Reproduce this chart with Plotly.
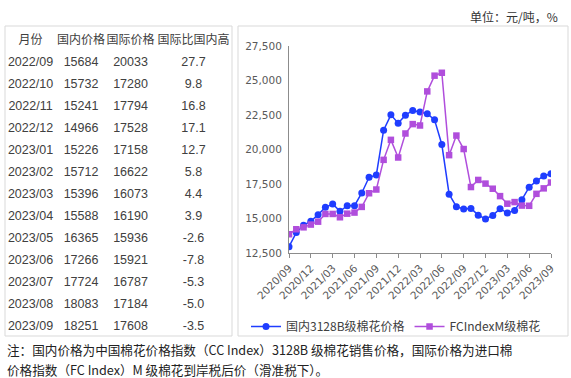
import plotly.graph_objects as go

W, H = 571, 378

# ---- data ----
months = [f"{y}/{m:02d}" for y, m in
          [(2020, 9), (2020, 10), (2020, 11), (2020, 12)] +
          [(2021, m) for m in range(1, 13)] +
          [(2022, m) for m in range(1, 13)] +
          [(2023, m) for m in range(1, 10)]]

domestic = [12960, 13980, 14510, 14800, 15280, 15810, 16050, 15520, 15930, 15930,
            16850, 17990, 18160, 21400, 22510, 21910, 22490, 22830, 22710, 22590,
            22150, 20360, 16760, 15860,
            15684, 15732, 15241, 14966, 15226, 15712, 15396, 15588, 16365, 17266,
            17724, 18083, 18251]
international = [13860, 14220, 14360, 14560, 14770, 15330, 15330, 15090, 15350, 15430,
                 15840, 16830, 17100, 19250, 20700, 19420, 21160, 21840, 21740, 24210,
                 25350, 25560, 19590, 21010,
                 20033, 17280, 17794, 17528, 17158, 16622, 16073, 16190, 15936, 15921,
                 16787, 17184, 17608]

tbl_header = ["月份", "国内价格", "国际价格", "国际比国内高"]
tbl_month = months[24:]
tbl_dom = domestic[24:]
tbl_int = international[24:]
tbl_diff = ["27.7", "9.8", "16.8", "17.1", "12.7", "5.8", "4.4", "3.9",
            "-2.6", "-7.8", "-5.3", "-5.0", "-3.5"]

x_ticks = months[::3]
y_ticks = [12500, 15000, 17500, 20000, 22500, 25000, 27500]

name_dom = "国内3128B级棉花价格"
name_int = "FCIndexM级棉花"
unit_text = "单位：元/吨，%"
note1 = "注：国内价格为中国棉花价格指数（CC Index）3128B 级棉花销售价格，国际价格为进口棉"
note2 = "价格指数（FC Index）M 级棉花到岸税后价（滑准税下）。"

CJK = "Noto Sans CJK SC"
LAT = "Liberation Sans, Noto Sans CJK SC"


def px(x):
    return x / W


def py(y):
    return 1 - y / H


fig = go.Figure()

fig.add_trace(go.Table(
    domain=dict(x=[px(5), px(232)], y=[py(336), py(27)]),
    columnwidth=[51, 50, 49, 77],
    header=dict(values=tbl_header, height=22, align="center",
                fill_color="rgba(0,0,0,0)", line_color="rgba(0,0,0,0)",
                font=dict(family=LAT, size=12, color="#404040")),
    cells=dict(values=[tbl_month,
                       [str(v) for v in tbl_dom],
                       [str(v) for v in tbl_int],
                       tbl_diff],
               height=22, align="center",
               fill_color="rgba(0,0,0,0)", line_color="rgba(0,0,0,0)",
               font=dict(family=LAT, size=12.5, color="#404040")),
))

fig.add_trace(go.Scatter(
    x=months, y=domestic, name=name_dom, mode="lines+markers",
    line=dict(color="#1F3DFF", width=1.5),
    marker=dict(symbol="circle", size=7, color="#1F3DFF"),
))
fig.add_trace(go.Scatter(
    x=months, y=international, name=name_int, mode="lines+markers",
    line=dict(color="#B04EDC", width=1.5),
    marker=dict(symbol="square", size=6.5, color="#B04EDC"),
))

fig.update_layout(
    width=W, height=H, autosize=False,
    margin=dict(l=0, r=0, t=0, b=0, pad=0, autoexpand=False),
    paper_bgcolor="white", plot_bgcolor="white",
    showlegend=True,
    legend=dict(orientation="h", x=px(246), y=py(312), xanchor="left", yanchor="top",
                font=dict(family=CJK, size=12, color="#404040"),
                bgcolor="rgba(0,0,0,0)", itemwidth=30, tracegroupgap=0),
    xaxis=dict(domain=[px(289), px(551)], type="category", range=[0, 36],
               tickvals=x_ticks, ticktext=x_ticks, tickangle=-45, automargin=False,
               showline=True, linecolor="#8c8c8c", linewidth=1,
               ticks="outside", ticklen=4, tickcolor="#8c8c8c",
               showgrid=False, zeroline=False,
               tickfont=dict(family="DejaVu Sans", size=10.5, color="#595959")),
    yaxis=dict(domain=[py(253), py(46)], range=[12500, 27500], automargin=False,
               tickvals=y_ticks, tickformat=",d", ticklabelstandoff=4,
               showline=True, linecolor="#8c8c8c", linewidth=1,
               ticks="", showgrid=False, zeroline=False,
               tickfont=dict(family="DejaVu Sans", size=10.5, color="#595959")),
    shapes=[
        dict(type="rect", xref="paper", yref="paper", x0=px(5), x1=px(232),
             y0=py(336), y1=py(26), line=dict(color="#d9d9d9", width=1)),
        dict(type="rect", xref="paper", yref="paper", x0=px(238), x1=px(568),
             y0=py(336), y1=py(26), line=dict(color="#d9d9d9", width=1)),
    ],
    annotations=[
        dict(text=unit_text, xref="paper", yref="paper", x=px(560), y=py(16),
             xanchor="right", yanchor="middle", showarrow=False,
             font=dict(family=CJK, size=12, color="#333333")),
        dict(text=note1, xref="paper", yref="paper", x=px(5), y=py(349),
             xanchor="left", yanchor="middle", showarrow=False,
             font=dict(family=CJK, size=12.6, color="#222222")),
        dict(text=note2, xref="paper", yref="paper", x=px(5), y=py(369),
             xanchor="left", yanchor="middle", showarrow=False,
             font=dict(family=CJK, size=12.6, color="#222222")),
    ],
)

fig.write_html("out.html",
               config={"displayModeBar": False},
               post_script="document.body.style.margin='0px';"
                           "document.body.style.overflow='hidden';")
